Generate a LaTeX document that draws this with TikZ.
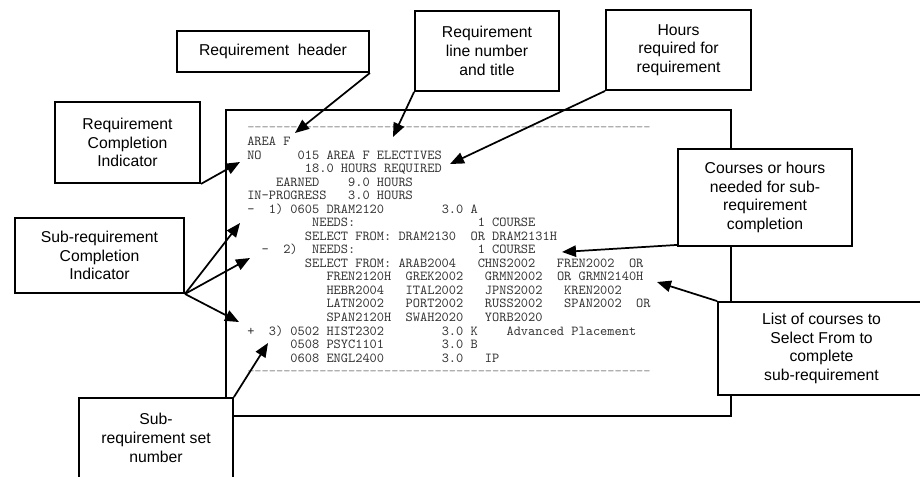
\documentclass[tikz,border=0pt]{standalone}
\usepackage{fontspec}
\usetikzlibrary{arrows.meta}
\newfontfamily\callfont{Liberation Sans}
\newfontfamily\codefont{Latin Modern Mono}
\frenchspacing
\tikzset{
  callout/.style={draw, line width=1.4pt, fill=white, align=center, inner sep=0pt,
    font=\callfont\fontsize{11.8}{14}\selectfont},
  codeline/.style={anchor=base west, inner sep=0pt,
    font=\codefont\fontsize{10.29}{11}\selectfont, text=black!80},
  dashline/.style={codeline, text=black!45},
  pointer/.style={line width=1.3pt, -{Triangle[length=10.5pt,width=8.5pt]}},
  report/.style={draw, line width=1.4pt, inner sep=0pt}
}
\begin{document}
\begin{tikzpicture}[x=0.75pt, y=-0.75pt]
\useasboundingbox (0,0) rectangle (920,476);
\fill[white] (0,0) rectangle (920,476);
\clip (0,0) rectangle (920,476);

% report frame
\node[report, minimum width=378.75pt, minimum height=229.5pt] (rep) at (478.5,263) {};

% report text lines (baseline = 131.9 + 13.54 i)
\node[dashline] (l0)  at (247,131.9) {--------------------------------------------------------};
\node[codeline] (l1)  at (247,145.4) {AREA~F};
\node[codeline] (l2)  at (247,159.0) {NO~~~~~015~AREA~F~ELECTIVES};
\node[codeline] (l3)  at (247,172.5) {~~~~~~~~18.0~HOURS~REQUIRED};
\node[codeline] (l4)  at (247,186.1) {~~~~EARNED~~~~9.0~HOURS};
\node[codeline] (l5)  at (247,199.6) {IN-PROGRESS~~~3.0~HOURS};
\node[codeline] (l6)  at (247,213.1) {-~~1)~0605~DRAM2120~~~~~~~~3.0~A};
\node[codeline] (l7)  at (247,226.7) {~~~~~~~~~NEEDS:~~~~~~~~~~~~~~~~~1~COURSE};
\node[codeline] (l8)  at (247,240.2) {~~~~~~~~SELECT~FROM:~DRAM2130~~OR~DRAM2131H};
\node[codeline] (l9)  at (247,253.8) {~~-~~2)~~NEEDS:~~~~~~~~~~~~~~~~~1~COURSE};
\node[codeline] (l10) at (247,267.3) {~~~~~~~~SELECT~FROM:~ARAB2004~~~CHNS2002~~~FREN2002~~OR};
\node[codeline] (l11) at (247,280.8) {~~~~~~~~~~~FREN2120H~~GREK2002~~~GRMN2002~~OR~GRMN2140H};
\node[codeline] (l12) at (247,294.4) {~~~~~~~~~~~HEBR2004~~~ITAL2002~~~JPNS2002~~~KREN2002};
\node[codeline] (l13) at (247,307.9) {~~~~~~~~~~~LATN2002~~~PORT2002~~~RUSS2002~~~SPAN2002~~OR};
\node[codeline] (l14) at (247,321.5) {~~~~~~~~~~~SPAN2120H~~SWAH2020~~~YORB2020};
\node[codeline] (l15) at (247,335.0) {+~~3)~0502~HIST2302~~~~~~~~3.0~K~~~~Advanced~Placement};
\node[codeline] (l16) at (247,348.5) {~~~~~~0508~PSYC1101~~~~~~~~3.0~B};
\node[codeline] (l17) at (247,362.1) {~~~~~~0608~ENGL2400~~~~~~~~3.0~~~IP};
\node[dashline] (l18) at (247,375.6) {--------------------------------------------------------};

% callout boxes
\node[callout, minimum width=144pt, minimum height=30.75pt] (hdr) at (273,51.5) {Requirement\ \ header};
\node[callout, minimum width=108pt, minimum height=60pt] (lnt) at (487,51) {Requirement\\line number\\and title};
\node[callout, minimum width=108.75pt, minimum height=60pt] (hrs) at (678.5,50) {Hours\\required for\\requirement};
\node[callout, minimum width=108.75pt, minimum height=60.75pt] (rci) at (127.5,142.5) {Requirement\\Completion\\Indicator};
\node[callout, minimum width=126.75pt, minimum height=56.25pt] (sci) at (99.5,255.5) {Sub-requirement\\Completion\\Indicator};
\node[callout, minimum width=115.5pt, minimum height=60pt] (ssn) at (156,438) {Sub-\\requirement set\\number};
\node[callout, minimum width=130.5pt, minimum height=72.75pt] (chn) at (765,197.5) {Courses or hours\\needed for sub-\\requirement\\completion};
\node[callout, minimum width=155.25pt, minimum height=69.75pt] (lst) at (821.5,348.5) {List of courses to\\Select From to\\complete\\sub-requirement};

% arrow targets
\coordinate (tHdr) at (295,133);
\coordinate (tLnt) at (393,137);
\coordinate (tHrs) at (450,164);
\coordinate (tRci) at (240,162);
\coordinate (tS1) at (240,223);
\coordinate (tS2) at (250,258);
\coordinate (tS3) at (239,322);
\coordinate (tSsn) at (268,343);
\coordinate (tChn) at (562,252);
\coordinate (tLst) at (657,282);

% arrows
\draw[pointer] (hdr.south east) -- (tHdr);
\draw[pointer] (lnt.south west) -- (tLnt);
\draw[pointer] (hrs.south west) -- (tHrs);
\draw[pointer] (rci.south east) -- (tRci);
\draw[pointer] (sci.south east) -- (tS1);
\draw[pointer] (sci.south east) -- (tS2);
\draw[pointer] (sci.south east) -- (tS3);
\draw[pointer] (ssn.north east) -- (tSsn);
\draw[pointer] ([yshift=1.5pt]chn.south west) -- (tChn);
\draw[pointer] (lst.north west) -- (tLst);
\end{tikzpicture}
\end{document}
